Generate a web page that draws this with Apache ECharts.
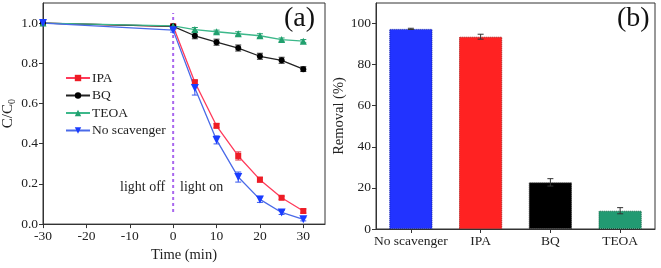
<!DOCTYPE html>
<html><head><meta charset="utf-8">
<script src="https://cdn.jsdelivr.net/npm/echarts@6/dist/echarts.min.js"></script>
<style>html,body{margin:0;padding:0;background:#fff}#c{width:661px;height:268px}</style>
</head><body><div id="c"></div>
<script>
const times = [-30, 0, 5, 10, 15, 20, 25, 30];
const ipa = [1.0, 0.984, 0.706, 0.489, 0.339, 0.221, 0.131, 0.065];
const ipaErr = [0, 0.005, 0.01, 0.01, 0.02, 0.012, 0.008, 0.01];
const bq = [1.0, 0.984, 0.937, 0.905, 0.876, 0.835, 0.815, 0.771];
const bqErr = [0, 0.01, 0.015, 0.015, 0.015, 0.015, 0.015, 0.012];
const teoa = [1.0, 0.986, 0.968, 0.957, 0.947, 0.937, 0.918, 0.910];
const teoaErr = [0, 0.005, 0.01, 0.008, 0.01, 0.01, 0.008, 0.008];
const noScav = [1.0, 0.965, 0.677, 0.419, 0.234, 0.123, 0.058, 0.024];
const noScavErr = [0, 0.01, 0.035, 0.02, 0.025, 0.015, 0.01, 0.008];
const lightTime = 0;
const lightLineSpan = [0.06, 1.05];

const barCats = ['No scavenger', 'IPA', 'BQ', 'TEOA'];
const removal = [97.4, 93.6, 22.7, 8.9];
const removalErr = [0.3, 1.2, 1.8, 1.5];
const barColors = ['#2233ff', '#ff2222', '#000000', '#229a72'];
const barBorders = ['#1122aa', '#aa1111', '#333333', '#116644'];

const FONT = "'Liberation Serif','Times New Roman',serif";
const AX = '#333';

function pairs(ys) { return times.map((t, i) => [t, ys[i]]); }
function errData(ys, es) { return times.map((t, i) => [t, ys[i] - es[i], ys[i] + es[i]]); }

function errSeries(name, ys, es, color) {
  return {
    type: 'custom', name: name + '_err', xAxisIndex: 0, yAxisIndex: 0, silent: true, z: 3,
    data: errData(ys, es),
    renderItem: function (params, api) {
      const x = api.value(0), lo = api.value(1), hi = api.value(2);
      if (hi - lo <= 0) return null;
      const p1 = api.coord([x, lo]), p2 = api.coord([x, hi]);
      const w = 3;
      return { type: 'group', children: [
        { type: 'line', shape: { x1: p1[0], y1: p1[1], x2: p2[0], y2: p2[1] }, style: { stroke: color, lineWidth: 1 } },
        { type: 'line', shape: { x1: p1[0] - w, y1: p1[1], x2: p1[0] + w, y2: p1[1] }, style: { stroke: color, lineWidth: 1 } },
        { type: 'line', shape: { x1: p2[0] - w, y1: p2[1], x2: p2[0] + w, y2: p2[1] }, style: { stroke: color, lineWidth: 1 } }
      ]};
    }
  };
}

function lineSeries(name, ys, lineColor, markColor, symbol, size) {
  return {
    type: 'line', name: name, xAxisIndex: 0, yAxisIndex: 0, data: pairs(ys),
    symbol: symbol, symbolSize: size, showAllSymbol: true,
    lineStyle: { color: lineColor, width: 1.3 },
    itemStyle: { color: markColor },
    z: 4
  };
}

const axisCommon = {
  axisLine: { show: true, onZero: false, lineStyle: { color: AX, width: 1 } },
  axisTick: { show: true, inside: false, length: 4, lineStyle: { color: AX } },
  axisLabel: { color: '#222', fontFamily: FONT, fontSize: 13.5, margin: 5 },
  splitLine: { show: false },
  nameTextStyle: { color: '#222', fontFamily: FONT, fontSize: 14.5 }
};

const option = {
  animation: false,
  backgroundColor: '#fff',
  grid: [
    { left: 42, right: 336, top: 3, bottom: 39, show: true, borderColor: AX, borderWidth: 1 },
    { left: 376, right: 6, top: 3, bottom: 39, show: true, borderColor: AX, borderWidth: 1 }
  ],
  xAxis: [
    Object.assign({}, axisCommon, { type: 'value', gridIndex: 0, min: -30, max: 35, interval: 10,
      name: 'Time (min)', nameLocation: 'middle', nameGap: 21,
      axisLabel: Object.assign({}, axisCommon.axisLabel, { showMaxLabel: false }) }),
    Object.assign({}, axisCommon, { type: 'category', gridIndex: 1, data: barCats,
      axisLabel: Object.assign({}, axisCommon.axisLabel, { interval: 0 }),
      axisTick: { show: true, alignWithLabel: true, interval: 0, length: 4, lineStyle: { color: AX } } })
  ],
  yAxis: [
    Object.assign({}, axisCommon, { type: 'value', gridIndex: 0, min: 0, max: 1.1, interval: 0.2,
      name: 'C/C{s|0}', nameLocation: 'middle', nameGap: 26,
      nameTextStyle: { color: '#222', fontFamily: FONT, fontSize: 15, rich: { s: { fontFamily: FONT, fontSize: 10, verticalAlign: 'bottom', padding: [7, 0, 0, 0] } } },
      axisLabel: Object.assign({}, axisCommon.axisLabel, { showMaxLabel: false, formatter: v => v.toFixed(1) }) }),
    Object.assign({}, axisCommon, { type: 'value', gridIndex: 1, min: 0, max: 110, interval: 20,
      name: 'Removal (%)', nameLocation: 'middle', nameGap: 24,
      axisLabel: Object.assign({}, axisCommon.axisLabel, { showMaxLabel: false }) })
  ],
  legend: {
    left: 60, top: 66, orient: 'vertical', itemGap: 3.5, itemWidth: 24, itemHeight: 8,
    data: ['IPA', 'BQ', 'TEOA', 'No scavenger'],
    textStyle: { fontFamily: FONT, fontSize: 13.5, color: '#222', padding: [0, 0, 0, -3] }
  },
  series: [
    {
      type: 'line', name: 'lightBoundary', xAxisIndex: 0, yAxisIndex: 0, silent: true, z: 2,
      data: lightLineSpan.map(v => [lightTime, v]),
      symbol: 'none',
      lineStyle: { color: '#a967ee', width: 2, type: [3, 3] }
    },
    lineSeries('IPA', ipa, '#ff3a5a', '#ee1c25', 'rect', 6),
    lineSeries('BQ', bq, '#222', '#000', 'circle', 6),
    lineSeries('TEOA', teoa, '#3cb88a', '#21a06e', 'triangle', 7),
    Object.assign(lineSeries('No scavenger', noScav, '#4a6ae8', '#1a3cff', 'triangle', 8), { symbolRotate: 180 }),
    errSeries('IPA', ipa, ipaErr, '#dd2030'),
    errSeries('BQ', bq, bqErr, '#333'),
    errSeries('TEOA', teoa, teoaErr, '#21a06e'),
    errSeries('No scavenger', noScav, noScavErr, '#3355ee'),
    {
      type: 'bar', xAxisIndex: 1, yAxisIndex: 1, barWidth: '62%',
      data: removal.map((v, i) => ({ value: v, itemStyle: { color: barColors[i], borderColor: barBorders[i], borderWidth: 1, borderType: 'dotted' } }))
    },
    {
      type: 'custom', xAxisIndex: 1, yAxisIndex: 1, silent: true, z: 5,
      data: removal.map((v, i) => [i, v - removalErr[i], v + removalErr[i]]),
      renderItem: function (params, api) {
        const x = api.value(0), lo = api.value(1), hi = api.value(2);
        const p1 = api.coord([x, lo]), p2 = api.coord([x, hi]);
        const w = 3, c = '#333';
        return { type: 'group', children: [
          { type: 'line', shape: { x1: p1[0], y1: p1[1], x2: p2[0], y2: p2[1] }, style: { stroke: c, lineWidth: 1 } },
          { type: 'line', shape: { x1: p1[0] - w, y1: p1[1], x2: p1[0] + w, y2: p1[1] }, style: { stroke: c, lineWidth: 1 } },
          { type: 'line', shape: { x1: p2[0] - w, y1: p2[1], x2: p2[0] + w, y2: p2[1] }, style: { stroke: c, lineWidth: 1 } }
        ]};
      }
    }
  ],
  graphic: [
    { type: 'text', left: 120, top: 180, style: { text: 'light off', font: "14px " + FONT, fill: '#222' } },
    { type: 'text', left: 180, top: 180, style: { text: 'light on', font: "14px " + FONT, fill: '#222' } },
    { type: 'text', left: 284, top: 5, style: { text: '(a)', font: "28px " + FONT, fill: '#111' } },
    { type: 'text', left: 617, top: 5, style: { text: '(b)', font: "28px " + FONT, fill: '#111' } }
  ]
};

const chart = echarts.init(document.getElementById('c'), null, { renderer: 'canvas' });
chart.setOption(option);
</script></body></html>
